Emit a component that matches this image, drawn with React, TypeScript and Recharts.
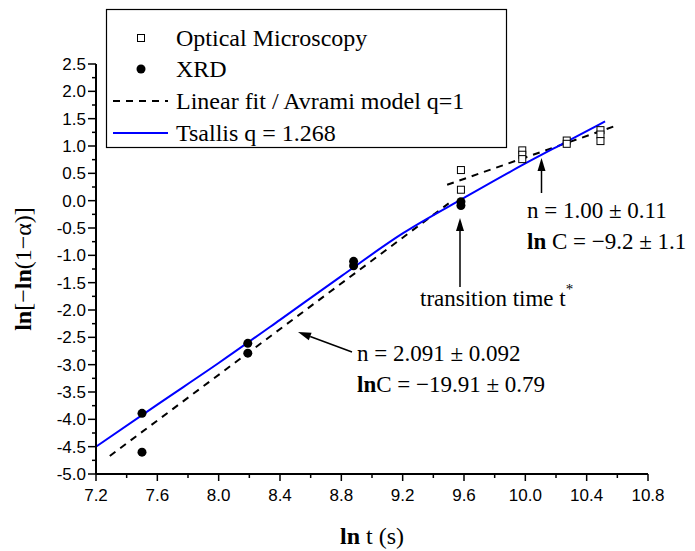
import React from "react";
import { ComposedChart, XAxis, YAxis, Scatter, Line } from "recharts";

// tick positions (minor + major)
const xTicks = [7.2, 7.4, 7.6, 7.8, 8.0, 8.2, 8.4, 8.6, 8.8, 9.0, 9.2, 9.4, 9.6, 9.8, 10.0, 10.2, 10.4, 10.6, 10.8];
const xMajor = [7.2, 7.6, 8.0, 8.4, 8.8, 9.2, 9.6, 10.0, 10.4, 10.8];
const yTicks = [2.5, 2.25, 2.0, 1.75, 1.5, 1.25, 1.0, 0.75, 0.5, 0.25, 0.0, -0.25, -0.5, -0.75, -1.0, -1.25, -1.5, -1.75, -2.0, -2.25, -2.5, -2.75, -3.0, -3.25, -3.5, -3.75, -4.0, -4.25, -4.5, -4.75, -5.0];
const yMajor = [2.5, 2.0, 1.5, 1.0, 0.5, 0.0, -0.5, -1.0, -1.5, -2.0, -2.5, -3.0, -3.5, -4.0, -4.5, -5.0];

// Optical microscopy (open squares)
const omX = [9.58, 9.58, 9.98, 9.98, 9.98, 10.27, 10.27, 10.49, 10.49, 10.49];
const omY = [0.56, 0.20, 0.92, 0.84, 0.76, 1.10, 1.04, 1.29, 1.21, 1.09];

// XRD (filled circles)
const xrdX = [7.5, 7.5, 8.19, 8.19, 8.88, 8.88, 9.58, 9.58];
const xrdY = [-3.89, -4.6, -2.61, -2.79, -1.11, -1.19, -0.02, -0.09];

// Tsallis q = 1.268 curve
const tsX = [7.2, 7.6, 8.0, 8.4, 8.8, 9.2, 9.6, 10.0, 10.27, 10.52];
const tsY = [-4.5, -3.73, -2.97, -2.18, -1.38, -0.6, 0.05, 0.68, 1.08, 1.45];

// linear fits (Avrami)
const fitLowX = [7.29, 9.5];
const fitLowY = [-4.67, -0.05];
const fitHighX = [9.49, 10.58];
const fitHighY = [0.29, 1.36];

const zip = (xs: number[], ys: number[]) => xs.map((x, i) => ({ x, y: ys[i] }));

const omData = zip(omX, omY);
const xrdData = zip(xrdX, xrdY);
const tsData = zip(tsX, tsY);
const fitLow = zip(fitLowX, fitLowY);
const fitHigh = zip(fitHighX, fitHighY);

const isMajor = (v: number, list: number[]) => list.some((m) => Math.abs(m - v) < 1e-6);
const fmt = (v: number) => (Math.abs(v) < 1e-9 ? "0.0" : v.toFixed(1));

const sans = "'Liberation Sans', Arial, sans-serif";
const serif = "'Liberation Serif', 'Times New Roman', serif";

const XTick = ({ x, y, payload }: any) => {
  const major = isMajor(payload.value, xMajor);
  return (
    <g>
      <line x1={x} x2={x} y1={y} y2={y + (major ? 7 : 4)} stroke="#000" strokeWidth={1.5} />
      {major && (
        <text x={x} y={y + 27} textAnchor="middle" fontFamily={sans} fontSize={17} fill="#000">
          {fmt(payload.value)}
        </text>
      )}
    </g>
  );
};

const YTick = ({ x, y, payload }: any) => {
  const major = isMajor(payload.value, yMajor);
  return (
    <g>
      <line x1={x} x2={x - (major ? 8 : 4)} y1={y} y2={y} stroke="#000" strokeWidth={1.5} />
      {major && (
        <text x={x - 10} y={y} dy="0.36em" textAnchor="end" fontFamily={sans} fontSize={17} fill="#000">
          {fmt(payload.value)}
        </text>
      )}
    </g>
  );
};

const Square = (p: any) => (
  <rect x={p.cx - 3.5} y={p.cy - 3.5} width={7} height={7} fill="#fff" stroke="#000" strokeWidth={1} />
);
const Dot = (p: any) => <circle cx={p.cx} cy={p.cy} r={4.5} fill="#000" />;

const Arrow = ({ x1, y1, x2, y2 }: { x1: number; y1: number; x2: number; y2: number }) => {
  const a = Math.atan2(y2 - y1, x2 - x1);
  const len = 13;
  const w = 4;
  const bx = x2 - len * Math.cos(a);
  const by = y2 - len * Math.sin(a);
  const px = -Math.sin(a) * w;
  const py = Math.cos(a) * w;
  return (
    <g>
      <line x1={x1} y1={y1} x2={bx} y2={by} stroke="#000" strokeWidth={1.5} />
      <polygon points={`${x2},${y2} ${bx + px},${by + py} ${bx - px},${by - py}`} fill="#000" />
    </g>
  );
};

const Overlay = () => (
  <svg width={695} height={551} style={{ position: "absolute", left: 0, top: 0, pointerEvents: "none" }}>
    {/* legend */}
    <rect x={106.5} y={9.5} width={400} height={138} fill="#fff" stroke="#000" strokeWidth={1.2} />
    <rect x={137.5} y={34.5} width={7} height={7} fill="#fff" stroke="#000" strokeWidth={1} />
    <circle cx={141} cy={69} r={4.5} fill="#000" />
    <line x1={113} x2={168} y1={101} y2={101} stroke="#000" strokeWidth={2} strokeDasharray="7 6" />
    <line x1={113} x2={168} y1={133} y2={133} stroke="#0000ff" strokeWidth={2} />
    <g fontFamily={serif} fontSize={24} fill="#000">
      <text x={176} y={46}>Optical Microscopy</text>
      <text x={176} y={77}>XRD</text>
      <text x={176} y={109}>Linear fit / Avrami model q=1</text>
      <text x={176} y={141}>Tsallis q = 1.268</text>
    </g>

    {/* annotations */}
    <g fontFamily={serif} fontSize={23} fill="#000">
      <text x={527} y={218}>n = 1.00 ± 0.11</text>
      <text x={527} y={249}>
        <tspan fontWeight="bold">ln</tspan> C = −9.2 ± 1.1
      </text>
      <text x={420} y={306}>
        transition time t<tspan fontSize={15} dy={-12}>*</tspan>
      </text>
      <text x={357} y={361}>n = 2.091 ± 0.092</text>
      <text x={357} y={392}>
        <tspan fontWeight="bold">ln</tspan>C = −19.91 ± 0.79
      </text>
    </g>
    <Arrow x1={460} y1={287} x2={460} y2={218} />
    <Arrow x1={541.5} y1={193} x2={541.5} y2={158} />
    <Arrow x1={352} y1={352} x2={298} y2={332} />

    {/* axis titles */}
    <text x={372} y={544} textAnchor="middle" fontFamily={serif} fontSize={24} fill="#000">
      <tspan fontWeight="bold">ln</tspan> t (s)
    </text>
    <text
      transform="translate(31, 269) rotate(-90)"
      textAnchor="middle"
      fontFamily={serif}
      fontSize={24}
      fill="#000"
    >
      <tspan fontWeight="bold">ln</tspan>[−<tspan fontWeight="bold">ln</tspan>(1−α)]
    </text>
  </svg>
);

export default function App() {
  return (
    <div style={{ position: "absolute", left: 0, top: 0, width: 695, height: 551, background: "#fff" }}>
      <ComposedChart width={695} height={551} margin={{ top: 64, right: 47, bottom: 47, left: 36 }}>
        <XAxis
          type="number"
          dataKey="x"
          domain={[7.2, 10.8]}
          ticks={xTicks}
          interval={0}
          height={30}
          tickSize={0}
          tickMargin={0}
          tick={<XTick />}
          axisLine={{ stroke: "#000", strokeWidth: 2 }}
          allowDataOverflow
        />
        <YAxis
          type="number"
          domain={[-5, 2.5]}
          ticks={yTicks}
          interval={0}
          width={60}
          tickSize={0}
          tickMargin={0}
          tick={<YTick />}
          axisLine={{ stroke: "#000", strokeWidth: 2 }}
          allowDataOverflow
        />
        <Line data={fitLow} dataKey="y" type="linear" stroke="#000" strokeWidth={2} strokeDasharray="7 6" dot={false} isAnimationActive={false} />
        <Line data={fitHigh} dataKey="y" type="linear" stroke="#000" strokeWidth={2} strokeDasharray="7 6" dot={false} isAnimationActive={false} />
        <Line data={tsData} dataKey="y" type="monotone" stroke="#0000ff" strokeWidth={2} dot={false} isAnimationActive={false} />
        <Scatter data={omData} dataKey="y" shape={Square} isAnimationActive={false} />
        <Scatter data={xrdData} dataKey="y" shape={Dot} isAnimationActive={false} />
      </ComposedChart>
      <Overlay />
    </div>
  );
}
